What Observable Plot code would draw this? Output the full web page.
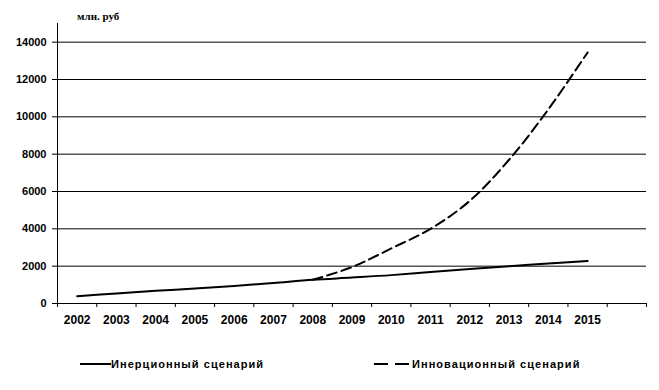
<!DOCTYPE html>
<html>
<head>
<meta charset="utf-8">
<script src="https://cdn.jsdelivr.net/npm/d3@7"></script>
<script src="https://cdn.jsdelivr.net/npm/@observablehq/plot@0.6"></script>
<style>
  body { margin: 0; background: #fff; }
  #wrap { position: relative; width: 659px; height: 390px; background: #fff; font-family: "Liberation Sans", Arial, sans-serif; }
  #unit { position: absolute; left: 77px; top: 10px; font-family: "Liberation Serif", "Times New Roman", serif; font-weight: bold; font-size: 11px; color: #000; }
  .leg { position: absolute; top: 356px; display: flex; align-items: center; font-weight: bold; font-size: 11px; color: #000; letter-spacing: 1.05px; }
  .leg svg { display: block; }
</style>
</head>
<body>
<div id="wrap">
  <div id="unit">млн. руб</div>
</div>
<script>
const years = [2002, 2003, 2004, 2005, 2006, 2007, 2008, 2009, 2010, 2011, 2012, 2013, 2014, 2015];
const inertial = [390, 540, 680, 800, 940, 1100, 1270, 1390, 1520, 1690, 1850, 2000, 2140, 2280];
const innovation = [null, null, null, null, null, null, 1270, 1950, 2950, 4000, 5500, 7700, 10400, 13450];
const yTicks = [0, 2000, 4000, 6000, 8000, 10000, 12000, 14000];
const seriesNames = ["Инерционный сценарий", "Инновационный сценарий"];

const inertialRows = years.map((year, i) => ({year, value: inertial[i]}));
const innovationRows = years.map((year, i) => ({year, value: innovation[i]})).filter(d => d.value != null);
const boundaries = d3.range(years.length + 2).map(i => years[0] - 0.5 + i);

const chart = Plot.plot({
  width: 659,
  height: 335,
  marginLeft: 57,
  marginRight: 13,
  marginTop: 23,
  marginBottom: 32,
  style: {fontFamily: "'Liberation Sans', Arial, sans-serif", fontSize: "11px", fontWeight: "bold", color: "#000", background: "transparent", overflow: "visible"},
  x: {domain: [years[0] - 0.5, years[years.length - 1] + 1.5], label: null},
  y: {domain: [0, 15000], label: null},
  marks: [
    Plot.ruleY(yTicks.filter(d => d > 0), {stroke: "#000", strokeWidth: 1}),
    Plot.ruleY([0], {stroke: "#000", strokeWidth: 1}),
    Plot.ruleX([years[0] - 0.5], {y1: 0, y2: 15000, stroke: "#000", strokeWidth: 1}),
    Plot.axisY(yTicks, {tickSize: 5, tickPadding: 6, tickFormat: d => String(d), label: null, stroke: "#000"}),
    Plot.axisX(boundaries, {tickSize: 4, tickFormat: () => "", label: null, stroke: "#000"}),
    Plot.axisX(years, {tickSize: 0, tickPadding: 12, tickFormat: d => String(d), label: null, fontSize: 12}),
    Plot.line(inertialRows, {x: "year", y: "value", curve: "catmull-rom", stroke: "#000", strokeWidth: 2}),
    Plot.line(innovationRows, {x: "year", y: "value", curve: "catmull-rom", stroke: "#000", strokeWidth: 2, strokeDasharray: "10,5"})
  ]
});
const wrap = document.getElementById("wrap");
wrap.insertBefore(chart, wrap.firstChild);

const legendPos = [80, 374];
const sampleW = [31, 38];
const dashes = [null, "14,7"];
seriesNames.forEach((name, i) => {
  const item = document.createElement("div");
  item.className = "leg";
  item.style.left = legendPos[i] + "px";
  const w = sampleW[i];
  item.innerHTML = `<svg width="${w}" height="16"><line x1="0" x2="${w}" y1="8" y2="8" stroke="#000" stroke-width="2" ${dashes[i] ? `stroke-dasharray="${dashes[i]}"` : ""}/></svg><span>${name}</span>`;
  wrap.appendChild(item);
});
</script>
</body>
</html>
